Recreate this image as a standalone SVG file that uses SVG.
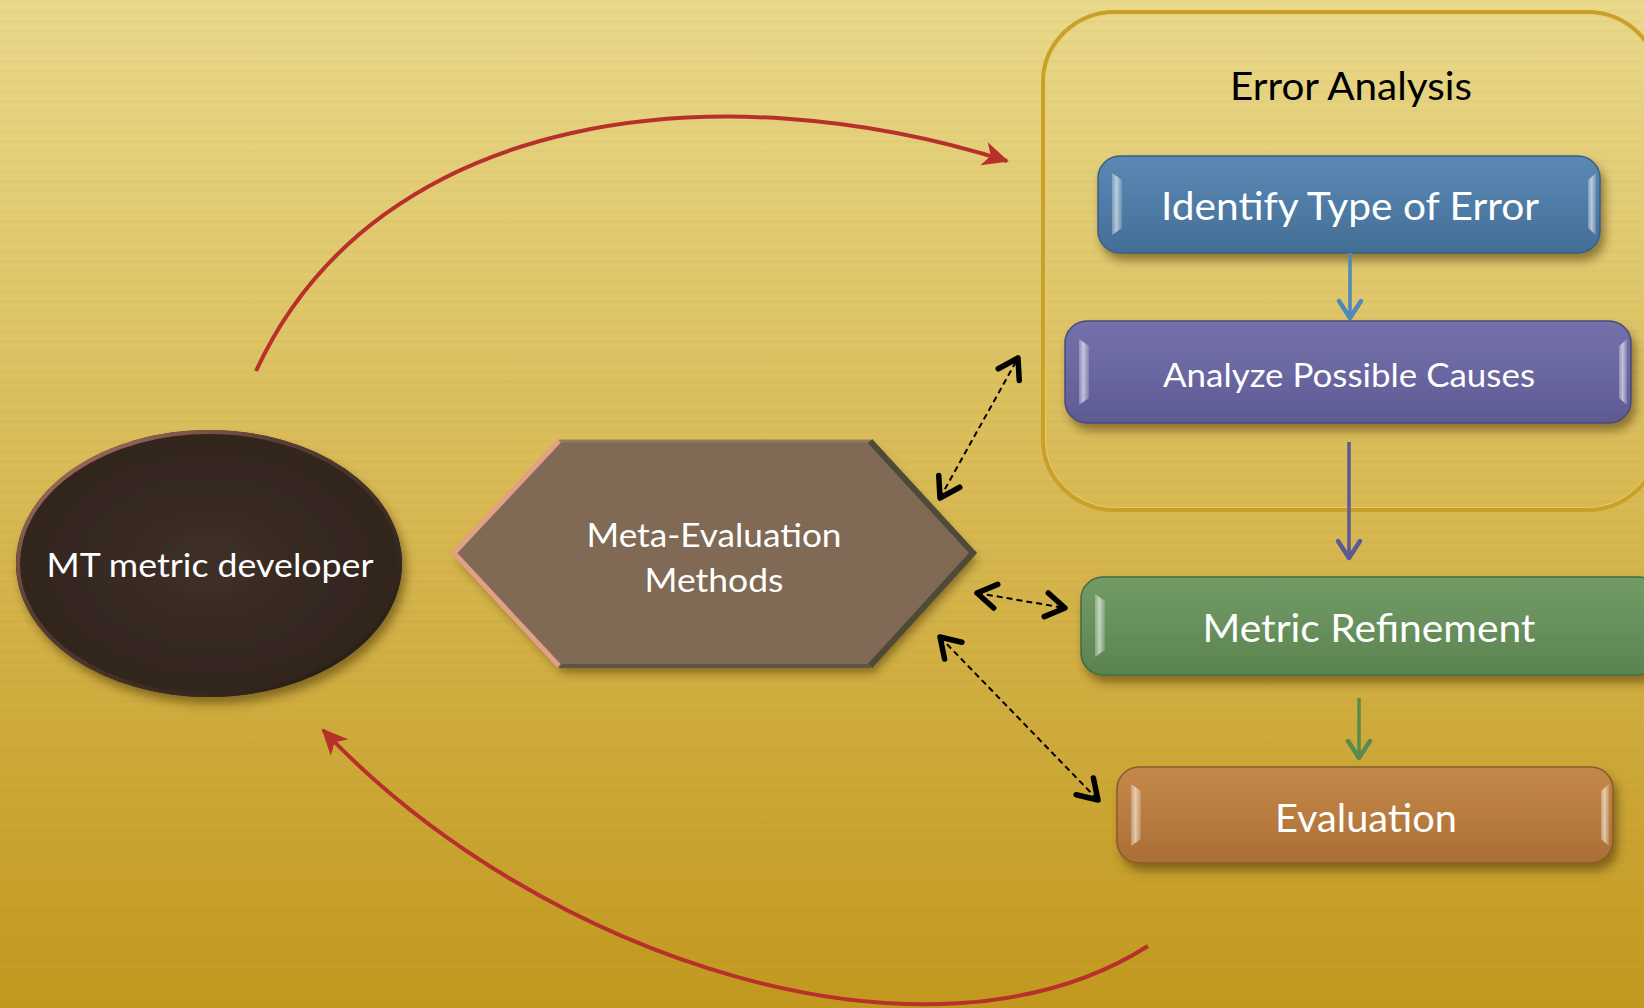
<svg xmlns="http://www.w3.org/2000/svg" width="1644" height="1008" viewBox="0 0 1644 1008">
  <style>
    .lbl { font-family: Lato, "Liberation Sans", Arial, sans-serif; fill: #ffffff; text-anchor: middle; }
    .title { font-family: Lato, "Liberation Sans", Arial, sans-serif; fill: #000000; text-anchor: middle; }
    .box { stroke-width: 1.5; }
    .gloss { fill: url(#glossGrad); }
    .dash { fill: none; stroke: #000; stroke-width: 2; stroke-dasharray: 6 4; marker-start: url(#chev); marker-end: url(#chev); }
    .red { fill: none; stroke: #b8302c; stroke-width: 4; marker-end: url(#redHead); }
    .flow { fill: none; stroke-width: 3.5; }
  </style>
  <defs>
    <linearGradient id="bgGrad" x1="0" y1="0" x2="0" y2="1">
      <stop offset="0" stop-color="#e9d98b"/>
      <stop offset="0.5" stop-color="#d8b953"/>
      <stop offset="1" stop-color="#c2991f"/>
    </linearGradient>
    <pattern id="stripes" width="40" height="10" patternUnits="userSpaceOnUse">
      <rect x="0" y="0" width="40" height="3" fill="#7a5a00" opacity="0.03"/>
    </pattern>
    <filter id="shadow" x="-20%" y="-20%" width="140%" height="150%">
      <feDropShadow dx="4" dy="7" stdDeviation="5" flood-color="#3a2a00" flood-opacity="0.5"/>
    </filter>
    <linearGradient id="glossGrad" x1="0" y1="0" x2="1" y2="0">
      <stop offset="0" stop-color="#ffffff" stop-opacity="0.25"/>
      <stop offset="0.45" stop-color="#ffffff" stop-opacity="0.6"/>
      <stop offset="1" stop-color="#ffffff" stop-opacity="0.15"/>
    </linearGradient>
    <linearGradient id="blueGrad" x1="0" y1="0" x2="0" y2="1">
      <stop offset="0" stop-color="#5a88b2"/>
      <stop offset="0.5" stop-color="#4f7ca6"/>
      <stop offset="1" stop-color="#436d95"/>
    </linearGradient>
    <linearGradient id="purpleGrad" x1="0" y1="0" x2="0" y2="1">
      <stop offset="0" stop-color="#7471aa"/>
      <stop offset="0.5" stop-color="#6a67a1"/>
      <stop offset="1" stop-color="#5d5a93"/>
    </linearGradient>
    <linearGradient id="greenGrad" x1="0" y1="0" x2="0" y2="1">
      <stop offset="0" stop-color="#729b66"/>
      <stop offset="0.5" stop-color="#67905c"/>
      <stop offset="1" stop-color="#5a8350"/>
    </linearGradient>
    <linearGradient id="orangeGrad" x1="0" y1="0" x2="0" y2="1">
      <stop offset="0" stop-color="#c4884a"/>
      <stop offset="0.5" stop-color="#b97c40"/>
      <stop offset="1" stop-color="#a96e34"/>
    </linearGradient>
    <radialGradient id="ovalGrad" cx="0.5" cy="0.5" r="0.55">
      <stop offset="0" stop-color="#3e2f27"/>
      <stop offset="1" stop-color="#30241d"/>
    </radialGradient>
    <linearGradient id="ovalRim" x1="0" y1="0" x2="1" y2="1">
      <stop offset="0" stop-color="#c07f70"/>
      <stop offset="0.35" stop-color="#5a3e34"/>
      <stop offset="1" stop-color="#1e1712"/>
    </linearGradient>
    <!-- open chevron heads for the dashed two-way links -->
    <marker id="chev" markerUnits="userSpaceOnUse" markerWidth="40" markerHeight="40" refX="0" refY="0" orient="auto-start-reverse" overflow="visible">
      <path d="M -19 -12 L 0 0 L -19 12" fill="none" stroke="#000" stroke-width="5.5" stroke-linecap="round" stroke-linejoin="round" stroke-dasharray="none"/>
    </marker>
    <marker id="chevBlue" markerUnits="userSpaceOnUse" markerWidth="40" markerHeight="40" refX="0" refY="0" orient="auto" overflow="visible">
      <path d="M -17 -11 L 0 0 L -17 11" fill="none" stroke="#4f88ba" stroke-width="4.5" stroke-linecap="round" stroke-linejoin="round"/>
    </marker>
    <marker id="chevPurple" markerUnits="userSpaceOnUse" markerWidth="40" markerHeight="40" refX="0" refY="0" orient="auto" overflow="visible">
      <path d="M -17 -11 L 0 0 L -17 11" fill="none" stroke="#5b5a98" stroke-width="4.5" stroke-linecap="round" stroke-linejoin="round"/>
    </marker>
    <marker id="chevGreen" markerUnits="userSpaceOnUse" markerWidth="40" markerHeight="40" refX="0" refY="0" orient="auto" overflow="visible">
      <path d="M -17 -11 L 0 0 L -17 11" fill="none" stroke="#5a8a4e" stroke-width="4.5" stroke-linecap="round" stroke-linejoin="round"/>
    </marker>
    <marker id="redHead" markerUnits="userSpaceOnUse" markerWidth="40" markerHeight="40" refX="0" refY="0" orient="auto" overflow="visible">
      <path d="M 2 0 L -24 -12 L -17 0 L -24 12 Z" fill="#b8302c"/>
    </marker>
  </defs>

  <!-- backdrop -->
  <rect x="0" y="0" width="1644" height="1008" fill="url(#bgGrad)"/>
  <rect x="0" y="0" width="1644" height="1008" fill="url(#stripes)"/>

  <!-- Error Analysis container -->
  <g id="error-analysis">
    <rect x="1043" y="12" width="616" height="498" rx="72" ry="70" fill="none" stroke="#c9a02a" stroke-width="4"/>
    <rect x="1045.5" y="14.5" width="611" height="493" rx="70" ry="68" fill="none" stroke="#e9cf6a" stroke-width="1" opacity="0.7"/>
    <text class="title" x="1351" y="100" font-size="39" textLength="242" lengthAdjust="spacingAndGlyphs">Error Analysis</text>
  </g>

  <!-- MT metric developer -->
  <g id="developer">
    <ellipse cx="209" cy="563.5" rx="193" ry="133.5" fill="url(#ovalGrad)" filter="url(#shadow)"/>
    <ellipse cx="209" cy="563.5" rx="191" ry="131.5" fill="none" stroke="url(#ovalRim)" stroke-width="4"/>
    <text class="lbl" x="210" y="577" font-size="33.5" textLength="327" lengthAdjust="spacingAndGlyphs">MT metric developer</text>
  </g>

  <!-- Meta-Evaluation Methods -->
  <g id="meta-evaluation">
    <polygon points="454,553 559,441 870,441 973,553 870,666 559,666" fill="#806a56" filter="url(#shadow)"/>
    <path d="M 559 441 L 870 441" stroke="#8f7a63" stroke-width="3" fill="none"/>
    <path d="M 870 441 L 973 553 L 870 666" stroke="#4e4a37" stroke-width="6" fill="none" stroke-linejoin="miter"/>
    <path d="M 559 666 L 870 666" stroke="#5f5443" stroke-width="4" fill="none"/>
    <path d="M 559 441 L 454 553 L 559 666" stroke="#e2a185" stroke-width="5" fill="none" stroke-linejoin="miter"/>
    <text class="lbl" x="714" y="547" font-size="33.5" textLength="255" lengthAdjust="spacingAndGlyphs">Meta-Evaluation</text>
    <text class="lbl" x="714" y="592" font-size="33.5" textLength="139" lengthAdjust="spacingAndGlyphs">Methods</text>
  </g>

  <!-- Identify Type of Error -->
  <g id="identify">
    <rect class="box" x="1098" y="156" width="502" height="97" rx="22" fill="url(#blueGrad)" stroke="#3b5f82" filter="url(#shadow)"/>
    <path class="gloss" d="M 1112 173 L 1122 180 L 1122 228 L 1112 235 Z"/>
    <path class="gloss" d="M 1596 173 L 1588 180 L 1588 228 L 1596 235 Z"/>
    <text class="lbl" x="1350" y="220" font-size="39" textLength="378" lengthAdjust="spacingAndGlyphs">Identify Type of Error</text>
  </g>

  <!-- Analyze Possible Causes -->
  <g id="analyze">
    <rect class="box" x="1065" y="321" width="566" height="102" rx="22" fill="url(#purpleGrad)" stroke="#4a4880" filter="url(#shadow)"/>
    <path class="gloss" d="M 1079 339 L 1089 346 L 1089 398 L 1079 405 Z"/>
    <path class="gloss" d="M 1627 339 L 1619 346 L 1619 398 L 1627 405 Z"/>
    <text class="lbl" x="1349" y="387" font-size="33.5" textLength="372" lengthAdjust="spacingAndGlyphs">Analyze Possible Causes</text>
  </g>

  <!-- Metric Refinement -->
  <g id="refinement">
    <rect class="box" x="1081" y="577" width="580" height="98" rx="22" fill="url(#greenGrad)" stroke="#466a3c" filter="url(#shadow)"/>
    <path class="gloss" d="M 1095 594 L 1105 601 L 1105 650 L 1095 657 Z"/>
    <path class="gloss" d="M 1657 594 L 1649 601 L 1649 650 L 1657 657 Z"/>
    <text class="lbl" x="1369" y="642" font-size="38" textLength="333" lengthAdjust="spacingAndGlyphs">Metric Refinement</text>
  </g>

  <!-- Evaluation -->
  <g id="evaluation">
    <rect class="box" x="1117" y="767" width="496" height="96" rx="22" fill="url(#orangeGrad)" stroke="#8a5a28" filter="url(#shadow)"/>
    <path class="gloss" d="M 1131 784 L 1141 791 L 1141 839 L 1131 846 Z"/>
    <path class="gloss" d="M 1609 784 L 1601 791 L 1601 839 L 1609 846 Z"/>
    <text class="lbl" x="1366" y="832" font-size="38" textLength="182" lengthAdjust="spacingAndGlyphs">Evaluation</text>
  </g>

  <!-- connectors -->
  <g id="connectors">
    <!-- feedback loop -->
    <path class="red" d="M 256 371 C 378 107, 723 71, 1007 161"/>
    <path class="red" d="M 1148 946 C 930 1085, 540 960, 323 730"/>
    <!-- two-way dashed links to the meta-evaluation step -->
    <line class="dash" x1="940" y1="498" x2="1018" y2="358"/>
    <line class="dash" x1="977" y1="593" x2="1065" y2="608"/>
    <line class="dash" x1="940" y1="637" x2="1098" y2="800"/>
    <!-- process flow -->
    <line class="flow" x1="1350" y1="253" x2="1350" y2="318" stroke="#4f88ba" marker-end="url(#chevBlue)"/>
    <line class="flow" x1="1349" y1="442" x2="1349" y2="558" stroke="#5b5a98" marker-end="url(#chevPurple)"/>
    <line class="flow" x1="1359" y1="698" x2="1359" y2="758" stroke="#5a8a4e" marker-end="url(#chevGreen)"/>
  </g>
</svg>
